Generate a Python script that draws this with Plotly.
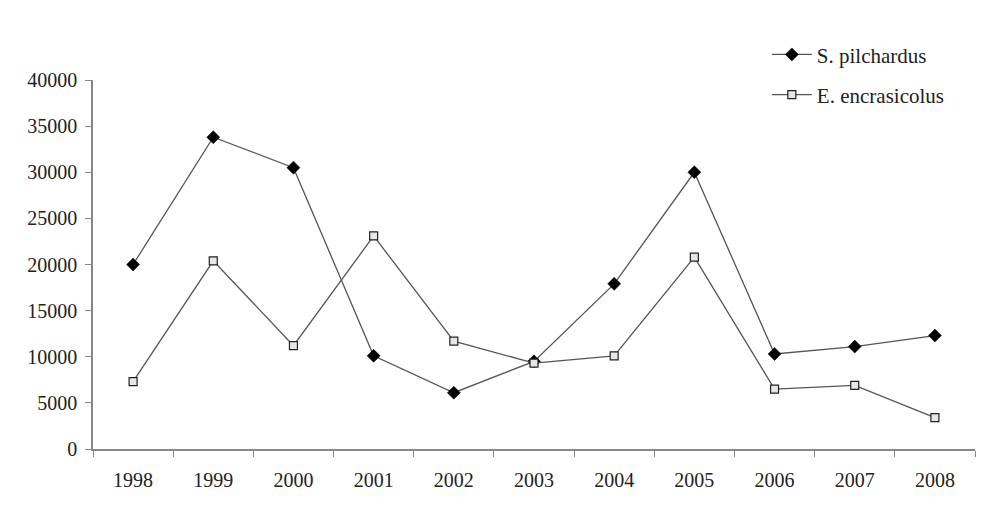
import plotly.graph_objects as go

years = ["1998", "1999", "2000", "2001", "2002", "2003", "2004", "2005", "2006", "2007", "2008"]
s_pilchardus = [20000, 33800, 30500, 10100, 6100, 9500, 17900, 30000, 10300, 11100, 12300]
e_encrasicolus = [7300, 20400, 11200, 23100, 11700, 9300, 10100, 20800, 6500, 6900, 3400]

font_family = "Liberation Serif, Times New Roman, serif"

fig = go.Figure()
fig.add_trace(go.Scatter(
    x=years, y=s_pilchardus, name="S. pilchardus", mode="lines+markers",
    legendgroup="a",
    line=dict(color="#555555", width=1.3),
    marker=dict(symbol="diamond", size=10, color="#000000", line=dict(color="#000000", width=0.5)),
))
fig.add_trace(go.Scatter(
    x=years, y=e_encrasicolus, name="E. encrasicolus", mode="lines+markers",
    legendgroup="b",
    line=dict(color="#555555", width=1.3),
    marker=dict(symbol="square", size=8, color="#e6e6e6", line=dict(color="#222222", width=1.2)),
))

fig.update_layout(
    width=1000, height=511,
    margin=dict(l=85, r=33, t=72, b=70),
    paper_bgcolor="white", plot_bgcolor="white",
    font=dict(family=font_family, size=20, color="#222222"),
    showlegend=True,
    legend=dict(
        x=0.764, y=1.124, xanchor="left", yanchor="top",
        traceorder="grouped", tracegroupgap=10, itemwidth=40,
        font=dict(family=font_family, size=21, color="#222222"),
        bgcolor="rgba(0,0,0,0)",
    ),
    xaxis=dict(
        type="category", range=[-0.5, 10.5],
        showline=True, linecolor="#888888", linewidth=1.5,
        ticks="outside", tickson="boundaries", ticklen=6, tickcolor="#888888",
        ticklabelstandoff=12,
        showgrid=False, zeroline=False,
        tickfont=dict(family=font_family, size=20, color="#222222"),
    ),
    yaxis=dict(
        range=[0, 40000], dtick=5000, tickformat="d",
        showline=True, linecolor="#888888", linewidth=1.5,
        ticks="outside", ticklen=6, tickcolor="#888888",
        ticklabelstandoff=4,
        showgrid=False, zeroline=False,
        tickfont=dict(family=font_family, size=20, color="#222222"),
    ),
)

fig.write_html("out.html")
